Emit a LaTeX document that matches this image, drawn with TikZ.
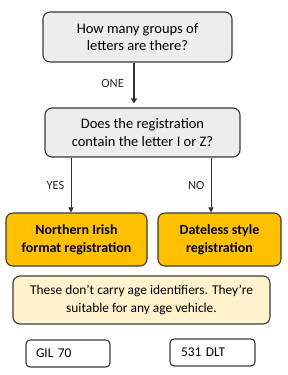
\documentclass[tikz,border=0pt]{standalone}
\usepackage{fontspec}
\setmainfont{Carlito}
\usepackage{xcolor}
\usetikzlibrary{arrows.meta, positioning, calc}
\definecolor{qfill}{HTML}{EDEDED}
\definecolor{boxdraw}{HTML}{3A3A3A}
\definecolor{resfill}{HTML}{FFC000}
\definecolor{notefill}{HTML}{FFF2CC}
\tikzset{
  blk/.style={rectangle, rounded corners=7pt, line width=1.1pt, draw=boxdraw, align=center, font=\fontsize{14.5}{17.5}\selectfont, inner sep=2pt},
  quest/.style={blk, fill=qfill},
  res/.style={blk, fill=resfill, font=\fontsize{14}{18}\selectfont\bfseries},
  note/.style={blk, fill=notefill, font=\fontsize{13.4}{17.5}\selectfont},
  plate/.style={blk, fill=white, rounded corners=4pt, font=\fontsize{13.4}{14}\selectfont, align=left, text width=#1, inner xsep=0pt},
  lab/.style={font=\fontsize{12.5}{12}\selectfont, text=black!85},
  arr/.style={-{Triangle[length=5pt, width=5pt]}, line width=0.6pt, draw=black!80},
  arrthick/.style={arr, line width=1.5pt, -{Triangle[length=5pt, width=6pt]}},
}
\begin{document}
\begin{tikzpicture}[x=1pt, y=1pt]
  \useasboundingbox (0,0) rectangle (288,-375);
  \node[quest, minimum width=189pt, minimum height=50pt] (grp) at (137.5,-37) {How many groups of\\letters are there?};
  \node[quest, minimum width=195pt, minimum height=49pt] (iz) at (142.5,-132.5) {Does the registration\\contain the letter I or Z?};
  \node[res, minimum width=141pt, minimum height=53pt] (ni) at (76.5,-239.5) {Northern Irish\\format registration};
  \node[res, minimum width=123pt, minimum height=53pt] (dl) at (219.5,-239.5) {Dateless style\\registration};
  \node[note, minimum width=257pt, minimum height=48pt] (age) at (141.5,-300) {These don’t carry age identifiers. They’re\\suitable for any age vehicle.};
  \node[plate=64pt, minimum width=84pt, minimum height=27pt] (gil) at (68,-353.5) {GIL 70};
  \node[plate=63pt, minimum width=85pt, minimum height=27pt] (dlt) at (212.5,-352.5) {531 DLT};
  \draw[arrthick] ([xshift=-3.5pt]grp.south) -- ([xshift=-3.5pt,yshift=4pt]grp.south |- iz.north) node[lab, midway, left=6pt] {ONE};
  \draw[arr] ([xshift=-5.5pt]ni.north |- iz.south) -- ([xshift=-5.5pt]ni.north) node[lab, midway, left=3pt] {YES};
  \draw[arr] ([xshift=-8.5pt]dl.north |- iz.south) -- ([xshift=-8.5pt]dl.north) node[lab, midway, left=3pt] {NO};
\end{tikzpicture}
\end{document}
